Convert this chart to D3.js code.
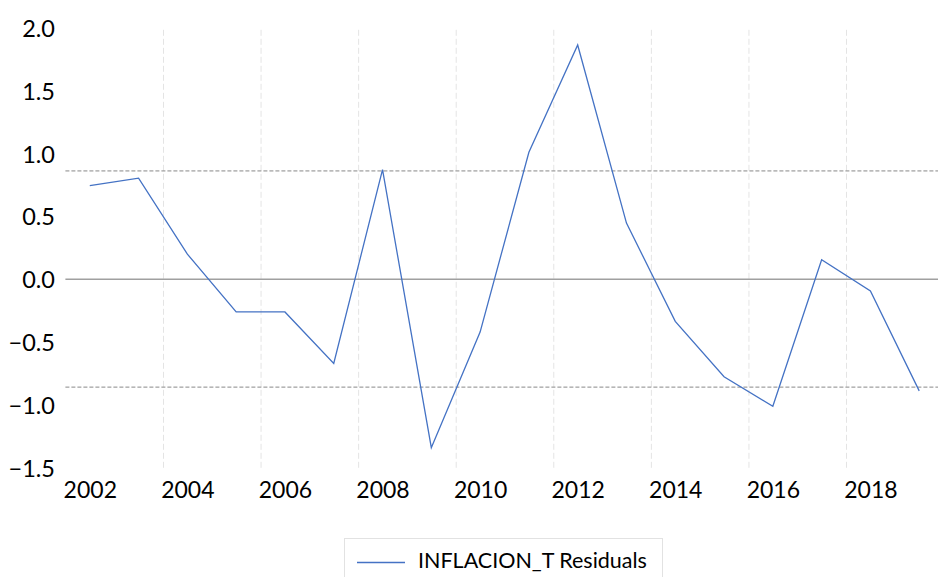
<!DOCTYPE html>
<html>
<head>
<meta charset="utf-8">
<script src="https://cdn.jsdelivr.net/npm/d3@7"></script>
<style>
  body { margin: 0; background: #fff; }
  svg { display: block; }
  text { font-family: Lato, "Open Sans", sans-serif; fill: #000; }
</style>
</head>
<body>
<script>
'use strict';

// annual residuals
const years = [2002, 2003, 2004, 2005, 2006, 2007, 2008, 2009, 2010,
               2011, 2012, 2013, 2014, 2015, 2016, 2017, 2018, 2019];
const residuals = [0.745, 0.805, 0.20, -0.26, -0.26, -0.67, 0.872, -1.34, -0.42,
                   1.01, 1.864, 0.447, -0.335, -0.776, -1.01, 0.155, -0.093, -0.888];
const seBand = [0.862, -0.858];   // dashed +/- S.E. lines
const yTicks = [-1.5, -1.0, -0.5, 0.0, 0.5, 1.0, 1.5, 2.0];
const xLabelYears = [2002, 2004, 2006, 2008, 2010, 2012, 2014, 2016, 2018];
const gridYears = [2004, 2006, 2008, 2010, 2012, 2014, 2016, 2018];
const seriesName = "INFLACION_T Residuals";

(function () {
  const width = 938, height = 577;
  const plotLeft = 65.4, plotRight = 943.6, plotTop = 27.9, plotBottom = 467.8;

  const svg = d3.select('body').append('svg')
    .attr('width', width)
    .attr('height', height);

  const x = d3.scaleLinear().domain([2002, 2020]).range([plotLeft, plotRight]);
  const y = d3.scaleLinear().domain([-1.5, 2.0]).range([plotBottom, plotTop]);

  // vertical dashed grid
  svg.append('g')
    .attr('transform', `translate(0, ${plotBottom})`)
    .call(d3.axisBottom(x).tickValues(gridYears).tickSize(-(plotBottom - plotTop)).tickFormat(''))
    .call(g => g.select('.domain').remove())
    .call(g => g.selectAll('line')
      .attr('stroke', '#e4e4e4')
      .attr('stroke-width', 1)
      .attr('stroke-dasharray', '6,3'));

  // x labels sit at mid-year
  svg.append('g')
    .attr('transform', `translate(0, ${plotBottom})`)
    .call(d3.axisBottom(x).tickValues(xLabelYears.map(d => d + 0.5)).tickSize(0)
      .tickFormat(d => Math.floor(d)))
    .call(g => g.select('.domain').remove())
    .call(g => g.selectAll('text')
      .attr('y', 30)
      .attr('dy', 0)
      .style('font-size', '23px')
      .style('font-family', 'Lato, "Open Sans", sans-serif')
      .attr('fill', '#000'));

  // y labels
  svg.append('g')
    .attr('transform', 'translate(55, 0)')
    .call(d3.axisLeft(y).tickValues(yTicks).tickSize(0).tickFormat(d3.format('.1f')))
    .call(g => g.select('.domain').remove())
    .call(g => g.selectAll('text')
      .attr('x', 0)
      .attr('dy', '0.36em')
      .style('font-size', '23.5px')
      .style('font-family', 'Lato, "Open Sans", sans-serif')
      .attr('fill', '#000'));

  // zero line
  svg.append('line')
    .attr('x1', plotLeft).attr('x2', width)
    .attr('y1', y(0)).attr('y2', y(0))
    .attr('stroke', '#a0a0a0')
    .attr('stroke-width', 1.6);

  // S.E. band lines
  svg.selectAll('.se')
    .data(seBand)
    .enter()
    .append('line')
    .attr('class', 'se')
    .attr('x1', plotLeft).attr('x2', width)
    .attr('y1', d => y(d)).attr('y2', d => y(d))
    .attr('stroke', '#888')
    .attr('stroke-width', 1)
    .attr('stroke-dasharray', '4,2');

  // residual line
  const valueLine = d3.line()
    .x((d, i) => x(years[i] + 0.5))
    .y(d => y(d));

  svg.append('path')
    .datum(residuals)
    .attr('d', valueLine)
    .attr('fill', 'none')
    .attr('stroke', '#4472c4')
    .attr('stroke-width', 1.3);

  // legend
  const legend = svg.append('g');
  legend.append('rect')
    .attr('x', 344.5).attr('y', 538.5)
    .attr('width', 318).attr('height', 60)
    .attr('fill', '#fff')
    .attr('stroke', '#e2e2e2');
  legend.append('line')
    .attr('x1', 357).attr('x2', 405)
    .attr('y1', 562.5).attr('y2', 562.5)
    .attr('stroke', '#4472c4')
    .attr('stroke-width', 1.3);
  legend.append('text')
    .attr('x', 418)
    .attr('y', 568)
    .style('font-size', '21.5px')
    .text(seriesName);
})();
</script>
</body>
</html>
